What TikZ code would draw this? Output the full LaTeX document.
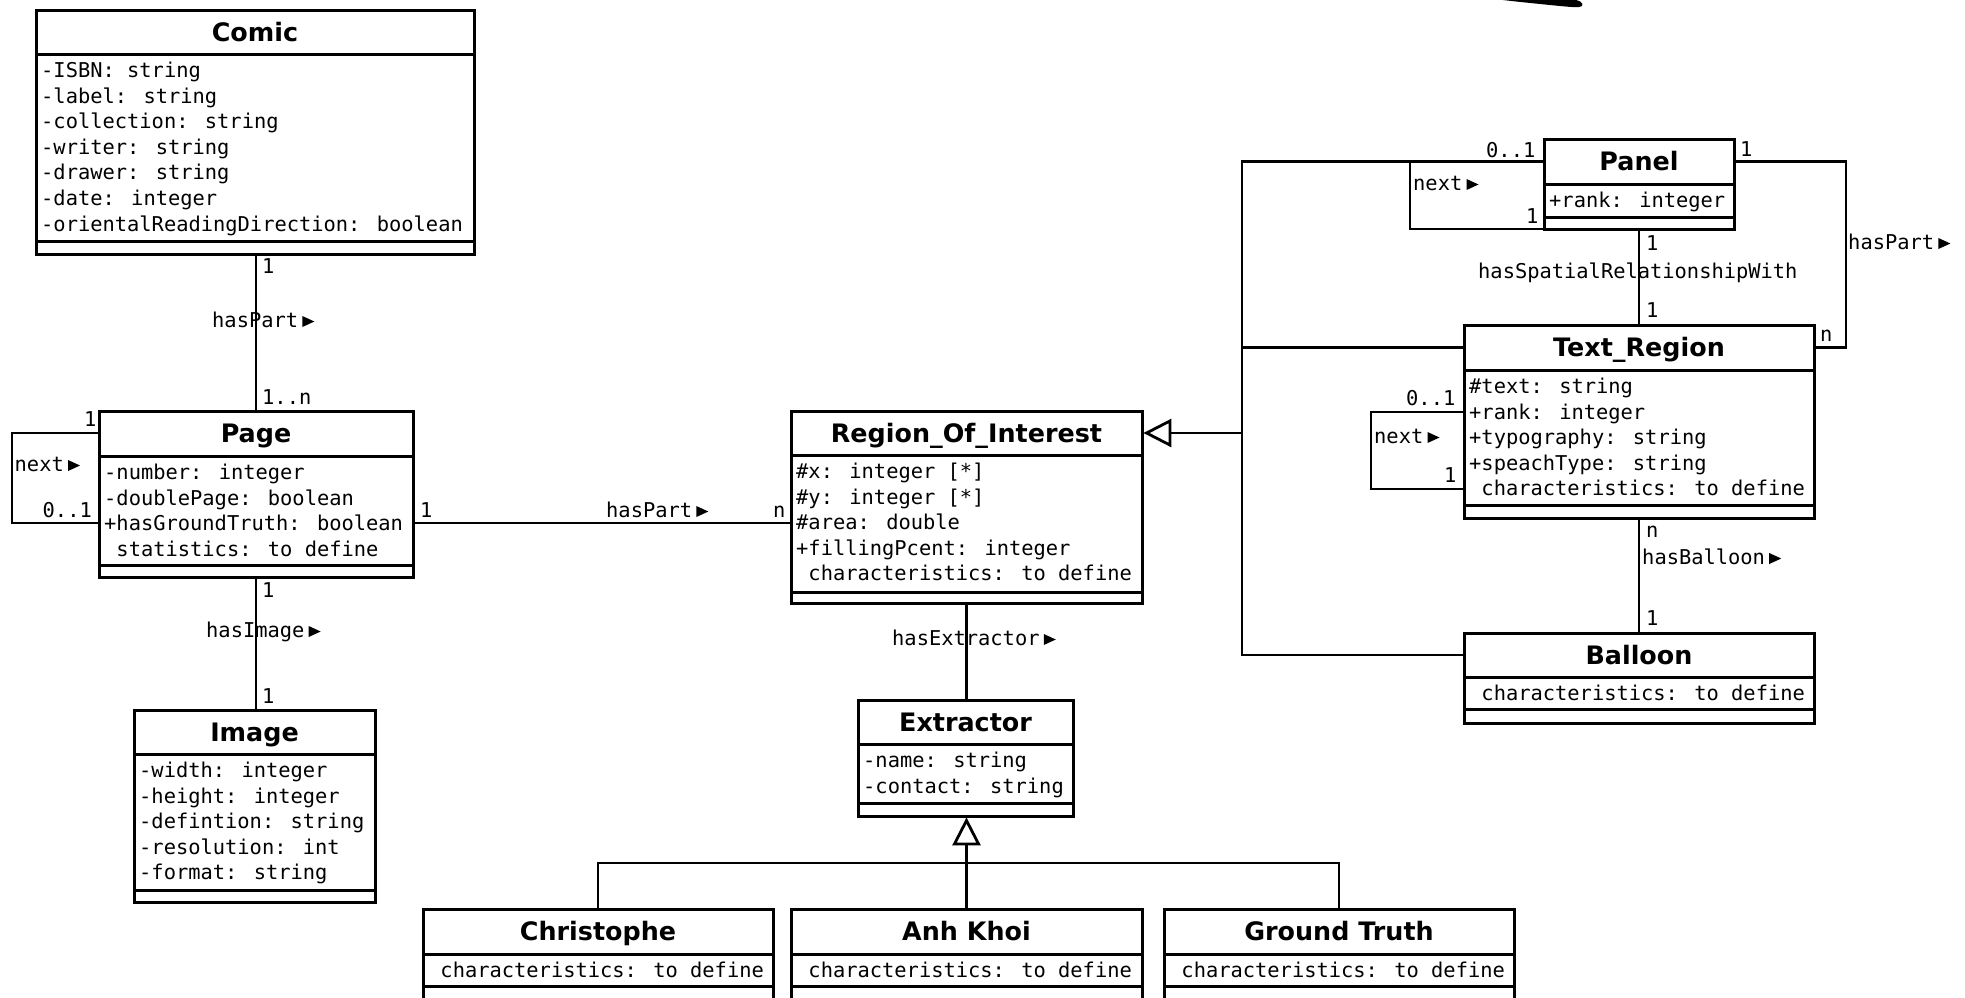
\documentclass[tikz,border=0pt]{standalone}
\usepackage{fontspec}
\setmainfont{DejaVu Sans}
\newfontfamily\umlmono{DejaVu Sans Mono}
\usetikzlibrary{arrows.meta}

\tikzset{
  boxline/.style={line width=3pt, line join=miter},
  classbox/.style={draw, rectangle, line width=3pt, inner sep=0pt, outer sep=0pt, fill=white},
  classtitle/.style={font=\bfseries\fontsize{25.4}{30}\selectfont, inner sep=0pt, anchor=base},
  attr/.style={font=\umlmono\fontsize{20.4}{25}\selectfont, inner sep=0pt, anchor=base west},
  lbl/.style={font=\umlmono\fontsize{20.4}{25}\selectfont, inner sep=0pt, anchor=base west},
  assoc/.style={draw, line width=2.8pt, line join=miter},
  genarrow/.style={assoc, shorten >=1.4pt, -{Triangle[open, length=28pt, width=28pt]}},
}

% UML class: name, left, top, right, title rule, attribute rule, bottom, title, attributes
\newcommand{\umlclass}[9]{%
  \node[classbox, anchor=north west, minimum width={(#4)-(#2)}, minimum height={(#7)-(#3)}] (#1) at (#2,#3) {};
  \draw[boxline] (#2,#5) -- (#4,#5);
  \draw[boxline] (#2,#6) -- (#4,#6);
  \coordinate (#1-t) at ({(#2+#4)/2},{(#3+#5)/2});
  \node[classtitle] (#1-title) at ({(#2+#4)/2},{(#3+#5)/2+9}) {#8};
  \foreach \attrline [count=\i] in {#9} {
    \node[attr] (#1-a\i) at ({#2+5},{#5+23.5+25.6*(\i-1)}) {\attrline};
  }%
}

% small filled direction marker after an association name
\newcommand{\dirmark}[1]{\fill ([xshift=4pt]#1.base east) -- ++(12,-5.5) -- ++(-12,-5.5) -- cycle;}

\newcommand{\ind}{\phantom{-}}

\begin{document}
\begin{tikzpicture}[x=1pt, y=-1pt]
  \useasboundingbox (0,0) rectangle (1965,997);
  \fill[white] (0,0) rectangle (1965,997);
  \clip (0,0) rectangle (1965,997);

  % classes
  \umlclass{Comic}{36}{10}{474}{54}{241}{254}{Comic}%
    {-ISBN: string,-label: string,-collection: string,-writer: string,-drawer: string,-date: integer,-orientalReadingDirection: boolean}
  \umlclass{Page}{99}{411}{413}{456}{565}{577}{Page}%
    {-number: integer,-doublePage: boolean,+hasGroundTruth: boolean,\ind statistics: to define}
  \umlclass{Image}{134}{710}{375}{754}{890}{902}{Image}%
    {-width: integer,-height: integer,-defintion: string,-resolution: int,-format: string}
  \umlclass{ROI}{791}{411}{1142}{455}{592}{603}{Region\_Of\_Interest}%
    {\#x: integer [*],\#y: integer [*],\#area: double,+fillingPcent: integer,\ind characteristics: to define}
  \umlclass{Extractor}{858}{700}{1073}{744}{803}{816}{Extractor}%
    {-name: string,-contact: string}
  \umlclass{Christophe}{423}{909}{773}{954}{986}{1020}{Christophe}%
    {\ind characteristics: to define}
  \umlclass{AnhKhoi}{791}{909}{1142}{954}{986}{1020}{Anh Khoi}%
    {\ind characteristics: to define}
  \umlclass{GroundTruth}{1164}{909}{1514}{954}{986}{1020}{Ground Truth}%
    {\ind characteristics: to define}
  \umlclass{Panel}{1544}{139}{1734}{184}{217}{229}{Panel}%
    {+rank: integer}
  \umlclass{TR}{1464}{325}{1814}{370}{505}{518}{Text\_Region}%
    {\#text: string,+rank: integer,+typography: string,+speachType: string,\ind characteristics: to define}
  \umlclass{Balloon}{1464}{633}{1814}{677}{709}{723}{Balloon}%
    {\ind characteristics: to define}

  % bend points
  \coordinate (pgl1) at (12,433);
  \coordinate (pgl2) at (12,523);
  \coordinate (genbar) at (966,863);
  \coordinate (busR) at (1242,433);
  \coordinate (pnl) at (1410,229);
  \coordinate (hpR) at (1846,250);
  \coordinate (trl1) at (1371,412);
  \coordinate (trl2) at (1371,489);

  % Comic -- Page
  \draw[assoc] (Page.north) -- (Page.north |- Comic.south);
  \node[lbl] (cp-1) at (262,273) {1};
  \node[lbl] (cp-name) at (212,327) {hasPart}; \dirmark{cp-name}
  \node[lbl] (cp-n) at (262,404) {1..n};

  % Page next
  \draw[assoc] (pgl1 -| Page.west) -- (pgl1) -- (pgl2) -- (pgl2 -| Page.west);
  \node[lbl] (pl-1) at (84,426) {1};
  \node[lbl] (pl-01) at (42.5,517) {0..1};
  \node[lbl] (pl-name) at (14.5,471) {next}; \dirmark{pl-name}

  % Page -- Image
  \draw[assoc] (Page.south) -- (Page.south |- Image.north);
  \node[lbl] (pi-1) at (262,597) {1};
  \node[lbl] (pi-name) at (206,637) {hasImage}; \dirmark{pi-name}
  \node[lbl] (pi-2) at (262,703) {1};

  % Page -- Region_Of_Interest
  \draw[assoc] (pgl2 -| Page.east) -- (pgl2 -| ROI.west);
  \node[lbl] (pr-1) at (420,517) {1};
  \node[lbl] (pr-name) at (606,517) {hasPart}; \dirmark{pr-name}
  \node[lbl] (pr-n) at (773,517) {n};

  % Region_Of_Interest -- Extractor
  \draw[assoc] (ROI.south) -- (ROI.south |- Extractor.north);
  \node[lbl] (re-name) at (892,645) {hasExtractor}; \dirmark{re-name}

  % Extractor specialisations
  \draw[assoc] (Christophe.north) -- (Christophe.north |- genbar) -- (GroundTruth.north |- genbar) -- (GroundTruth.north);
  \draw[genarrow] (AnhKhoi.north) -- (AnhKhoi.north |- Extractor.south);

  % Region_Of_Interest specialisations
  \draw[assoc] (Panel-t -| Panel.west) -- (Panel-t -| busR) -- (Balloon-t -| busR) -- (Balloon-t -| Balloon.west);
  \draw[assoc] (TR-t -| TR.west) -- (TR-t -| busR);
  \draw[genarrow] (busR) -- (busR -| ROI.east);

  % Panel next
  \draw[assoc] (pnl |- Panel-t) -- (pnl) -- (pnl -| Panel.west);
  \node[lbl] (pn-01) at (1486,157) {0..1};
  \node[lbl] (pn-1) at (1526,223) {1};
  \node[lbl] (pn-name) at (1413,190) {next}; \dirmark{pn-name}

  % Panel -- Text_Region hasPart
  \draw[assoc] (Panel-t -| Panel.east) -- (Panel-t -| hpR) -- (TR-t -| hpR) -- (TR-t -| TR.east);
  \node[lbl] (ph-1) at (1740,156) {1};
  \node[lbl] (ph-name) at (1848,249) {hasPart}; \dirmark{ph-name}
  \node[lbl] (ph-n) at (1820,341) {n};

  % Panel -- Text_Region spatial relationship
  \draw[assoc] (Panel.south) -- (Panel.south |- TR.north);
  \node[lbl] (ps-1) at (1646,250) {1};
  \node[lbl] (ps-name) at (1478,278) {hasSpatialRelationshipWith};
  \node[lbl] (ps-2) at (1646,317) {1};

  % Text_Region next
  \draw[assoc] (trl1 -| TR.west) -- (trl1) -- (trl2) -- (trl2 -| TR.west);
  \node[lbl] (tl-01) at (1406,405) {0..1};
  \node[lbl] (tl-1) at (1444,482) {1};
  \node[lbl] (tl-name) at (1374,443) {next}; \dirmark{tl-name}

  % Text_Region -- Balloon
  \draw[assoc] (TR.south) -- (TR.south |- Balloon.north);
  \node[lbl] (tb-n) at (1646,537) {n};
  \node[lbl] (tb-name) at (1642,564) {hasBalloon}; \dirmark{tb-name}
  \node[lbl] (tb-1) at (1646,625) {1};

  % stroke fragment at the top edge
  \fill (1495,-1) -- (1570,-1) .. controls (1580,0) and (1584,3) .. (1582,6)
        .. controls (1580,8) and (1570,7) .. (1555,5.5) .. controls (1530,3) and (1510,1) .. cycle;
\end{tikzpicture}
\end{document}
